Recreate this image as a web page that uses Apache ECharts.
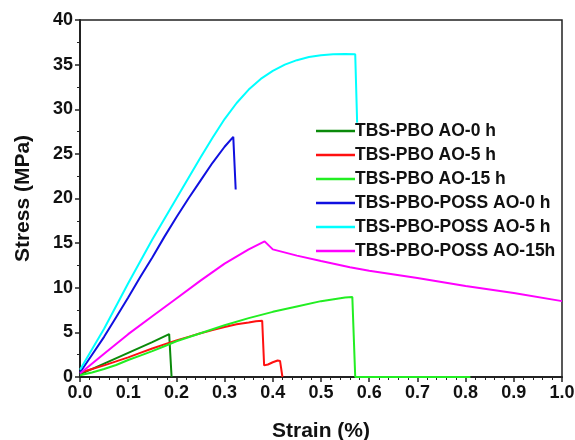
<!DOCTYPE html>
<html>
<head>
<meta charset="utf-8">
<script src="https://cdn.jsdelivr.net/npm/echarts@6/dist/echarts.min.js"></script>
<style>html,body{margin:0;padding:0;background:#fff}#c{width:575px;height:440px}</style>
</head>
<body>
<div id="c"></div>
<script>
const seriesNames = ['TBS-PBO AO-0 h','TBS-PBO AO-5 h','TBS-PBO AO-15 h','TBS-PBO-POSS AO-0 h','TBS-PBO-POSS AO-5 h','TBS-PBO-POSS AO-15h'];
const seriesColors = ['#0a8a0a','#ff1010','#22ee22','#1010e0','#00ffff','#ff00ff'];

const strain0 = [0, 0.05, 0.1, 0.15, 0.185, 0.19];
const stress0 = [0.3, 1.5, 2.7, 3.9, 4.8, 0];

const strain1 = [0, 0.025, 0.05, 0.075, 0.1, 0.125, 0.15, 0.175, 0.2, 0.225, 0.25, 0.275, 0.3, 0.325, 0.35, 0.365, 0.378, 0.382, 0.39, 0.4, 0.41, 0.415, 0.42];
const stress1 = [0.5, 0.9, 1.3, 1.75, 2.2, 2.7, 3.2, 3.65, 4.1, 4.5, 4.9, 5.25, 5.6, 5.9, 6.1, 6.25, 6.3, 1.3, 1.4, 1.65, 1.85, 1.8, 0];

const strain2 = [0, 0.025, 0.05, 0.075, 0.1, 0.125, 0.15, 0.175, 0.2, 0.225, 0.25, 0.3, 0.35, 0.4, 0.45, 0.5, 0.53, 0.55, 0.565, 0.571, 0.81];
const stress2 = [0.2, 0.5, 0.9, 1.35, 1.9, 2.4, 2.9, 3.45, 4.0, 4.45, 4.9, 5.8, 6.6, 7.3, 7.9, 8.5, 8.75, 8.9, 8.95, 0, 0];

const strain3 = [0, 0.025, 0.05, 0.075, 0.1, 0.125, 0.15, 0.175, 0.2, 0.225, 0.25, 0.275, 0.3, 0.318, 0.323];
const stress3 = [0.5, 2.5, 4.5, 6.7, 8.9, 11.2, 13.4, 15.7, 17.9, 20.0, 22.0, 24.0, 25.8, 26.9, 21.0];

const strain4 = [0, 0.05, 0.1, 0.15, 0.2, 0.25, 0.275, 0.3, 0.325, 0.35, 0.375, 0.4, 0.425, 0.45, 0.475, 0.5, 0.525, 0.55, 0.571, 0.575];
const stress4 = [0.8, 5.4, 10.5, 15.4, 20.0, 24.6, 26.8, 28.9, 30.7, 32.2, 33.4, 34.3, 35.0, 35.5, 35.85, 36.05, 36.15, 36.2, 36.15, 28.5];

const strain5 = [0, 0.05, 0.1, 0.15, 0.2, 0.25, 0.3, 0.35, 0.383, 0.4, 0.45, 0.5, 0.56, 0.6, 0.7, 0.8, 0.9, 1.0];
const stress5 = [0.4, 2.6, 4.8, 6.8, 8.8, 10.8, 12.7, 14.3, 15.2, 14.3, 13.6, 13.0, 12.3, 11.9, 11.1, 10.2, 9.4, 8.5];

const strains = [strain0, strain1, strain2, strain3, strain4, strain5];
const stresses = [stress0, stress1, stress2, stress3, stress4, stress5];

const xTicks = {min: 0, max: 1, interval: 0.1};
const yTicks = {min: 0, max: 40, interval: 5};

const chart = echarts.init(document.getElementById('c'));
const font = 'Arial, "Liberation Sans", sans-serif';
const axisCol = '#222';

chart.setOption({
  animation: false,
  backgroundColor: '#fff',
  grid: {left: 80, right: 13, top: 20, bottom: 63, containLabel: false, outerBoundsMode: 'none', show: true, borderColor: axisCol, borderWidth: 1.5, backgroundColor: 'transparent'},
  legend: {
    orient: 'vertical', left: 316, top: 122, padding: 0,
    data: seriesNames,
    icon: 'rect', itemWidth: 39, itemHeight: 2.5, itemGap: 6,
    textStyle: {fontFamily: font, fontWeight: 'bold', fontSize: 17.5, color: '#111', lineHeight: 18, padding: [0,0,0,-5]}
  },
  xAxis: {
    type: 'value', min: xTicks.min, max: xTicks.max, interval: xTicks.interval,
    name: 'Strain (%)', nameLocation: 'middle', nameGap: 44,
    nameTextStyle: {fontFamily: font, fontWeight: 'bold', fontSize: 21, color: '#111'},
    axisLine: {show: true, onZero: false, lineStyle: {color: axisCol, width: 2}},
    axisTick: {show: true, length: 5, lineStyle: {color: axisCol, width: 1.5}},
    minorTick: {show: true, splitNumber: 5, length: 3, lineStyle: {color: axisCol, width: 1}},
    splitLine: {show: false},
    axisLabel: {fontFamily: font, fontWeight: 'bold', fontSize: 18, color: '#111', margin: 7, formatter: v => v.toFixed(1)}
  },
  yAxis: {
    type: 'value', min: yTicks.min, max: yTicks.max, interval: yTicks.interval,
    name: 'Stress (MPa)', nameLocation: 'middle', nameGap: 46,
    nameTextStyle: {fontFamily: font, fontWeight: 'bold', fontSize: 21, color: '#111'},
    axisLine: {show: true, onZero: false, lineStyle: {color: axisCol, width: 2}},
    axisTick: {show: true, length: 5, lineStyle: {color: axisCol, width: 1.5}},
    minorTick: {show: true, splitNumber: 2, length: 3, lineStyle: {color: axisCol, width: 1}},
    splitLine: {show: false},
    axisLabel: {fontFamily: font, fontWeight: 'bold', fontSize: 18, color: '#111', margin: 7}
  },
  series: seriesNames.map((n, i) => ({
    name: n, type: 'line', symbol: 'none', smooth: false,
    color: seriesColors[i],
    lineStyle: {color: seriesColors[i], width: 2},
    data: strains[i].map((x, j) => [x, stresses[i][j]])
  }))
});
</script>
</body>
</html>
